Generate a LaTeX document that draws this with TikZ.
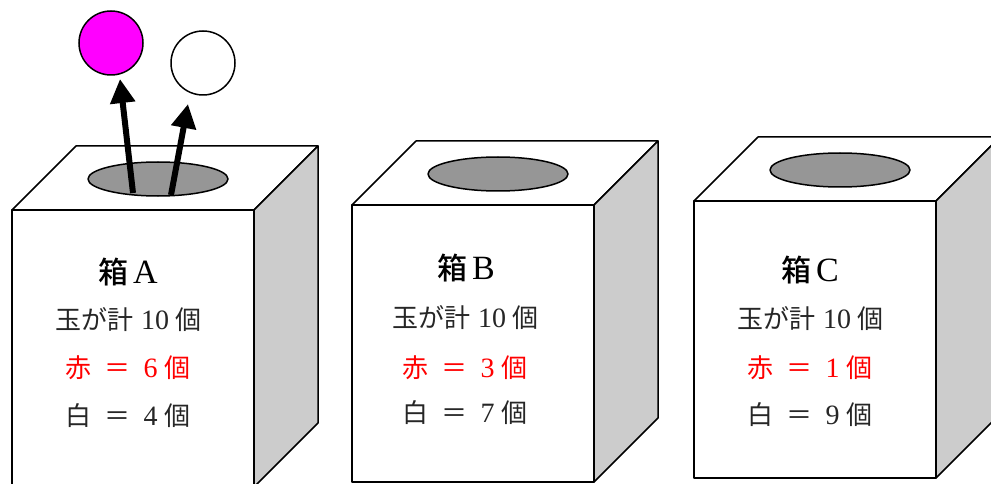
\documentclass[tikz,border=0pt]{standalone}
\usepackage{fontspec}
\setmainfont{Liberation Serif}
\newfontfamily\cjk{Noto Sans CJK JP}
\newfontfamily\cjkmid{Noto Sans CJK JP}[UprightFont=* Medium]
\usetikzlibrary{arrows.meta}
\definecolor{sidegray}{RGB}{204,204,204}
\definecolor{holegray}{RGB}{150,150,150}
\definecolor{countred}{RGB}{255,0,0}
\definecolor{ballmagenta}{RGB}{255,0,255}
\tikzset{
  edge/.style={line width=1.5pt, line join=round},
  frontface/.style={edge, fill=white},
  sideface/.style={edge, fill=sidegray},
  hole/.style={edge, fill=holegray},
  ball/.style={circle, draw, line width=1.5pt, minimum size=64pt, inner sep=0pt},
  takeout/.style={line width=6pt, -{Triangle[length=24pt,width=24pt]}},
  boxtitle/.style={font=\fontsize{30}{32}\selectfont},
  count/.style={font=\fontsize{26}{28}\selectfont, text=black!85},
  redcount/.style={count, text=countred},
  % a lottery box: front face from (0,0) to (242,277), depth (64,-64)
  ballbox/.pic={
    \draw[frontface] (0,0) -- (64,-64) -- (306,-64) -- (242,0) -- cycle;
    \draw[sideface] (242,0) -- (306,-64) -- (306,213) -- (242,277) -- cycle;
    \draw[frontface] (0,0) rectangle (242,277);
    \draw[hole] (146,-31) ellipse [x radius=70, y radius=17];
  }
}
% Latin letters and digits set a little larger than the kanji around them
\newcommand{\bigletter}[1]{{\fontsize{34}{36}\selectfont #1}}
\newcommand{\bignum}[1]{{\fontsize{28}{30}\selectfont #1}}
\newcommand{\totalline}{{\cjk 玉が計}\hspace{8pt}\bignum{10}\hspace{6pt}{\cjk 個}}
\newcommand{\colorline}[2]{{\cjk #1}\hspace{13pt}{\cjk ＝}\hspace{13pt}\bignum{#2}\hspace{7pt}{\cjk 個}}
\begin{document}
\begin{tikzpicture}[x=1pt, y=-1pt]
  \useasboundingbox (0,0) rectangle (991,484);
  \clip (0,0) rectangle (991,484);

  % three boxes
  \pic at (12,210) {ballbox};
  \pic at (352,205) {ballbox};
  \pic at (694,201) {ballbox};

  % box A
  \node[boxtitle] (titleA) at (128,272) {{\cjkmid 箱}\,\bigletter{A}};
  \node[count] (totalA) at (128,320) {\totalline};
  \node[redcount] (redA) at (128,368) {\colorline{赤}{6}};
  \node[count] (whiteA) at (128,416) {\colorline{白}{4}};

  % box B
  \node[boxtitle] (titleB) at (466,268) {{\cjkmid 箱}\,\bigletter{B}};
  \node[count] (totalB) at (465,318) {\totalline};
  \node[redcount] (redB) at (465,368) {\colorline{赤}{3}};
  \node[count] (whiteB) at (465,413) {\colorline{白}{7}};

  % box C
  \node[boxtitle] (titleC) at (810,270) {{\cjkmid 箱}\,\bigletter{C}};
  \node[count] (totalC) at (810,319) {\totalline};
  \node[redcount] (redC) at (810,368) {\colorline{赤}{1}};
  \node[count] (whiteC) at (810,415) {\colorline{白}{9}};

  % balls drawn out of box A
  \node[ball, fill=ballmagenta] (redball) at (111,43) {};
  \node[ball, fill=white] (whiteball) at (203,63) {};
  \coordinate (redfrom) at (133,193);
  \coordinate (redto) at (120,79);
  \coordinate (whitefrom) at (171,195);
  \coordinate (whiteto) at (188,104);
  \draw[takeout] (redfrom) -- (redto);
  \draw[takeout] (whitefrom) -- (whiteto);
\end{tikzpicture}
\end{document}
